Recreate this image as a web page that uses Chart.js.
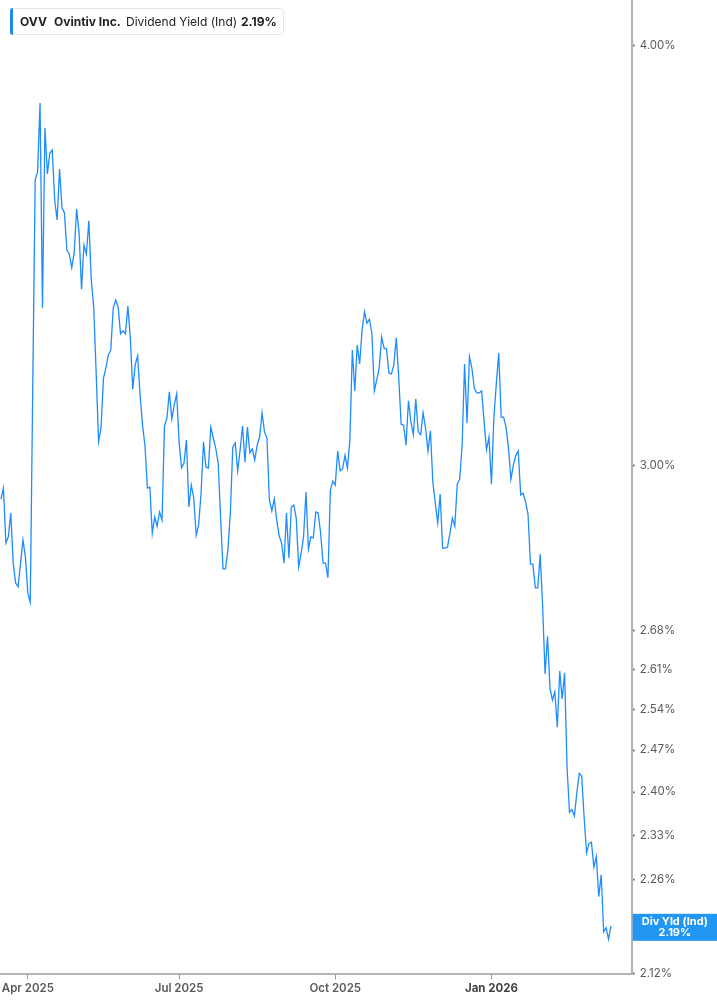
<!DOCTYPE html>
<html>
<head>
<meta charset="utf-8">
<script src="https://cdn.jsdelivr.net/npm/chart.js@4.4.1/dist/chart.umd.min.js"></script>
<style>
  body { margin: 0; background: #fff; }
  #wrap { position: relative; width: 717px; height: 1005px; }
  #legendBox {
    position: absolute; left: 10px; top: 8px; width: 272px; height: 25px;
    background: #fff; border: 1px solid #e6e6e6; border-radius: 4px;
    font-family: Inter, "Noto Sans", sans-serif; font-size: 12px; color: #222;
  }
  #legendBox .bar { position: absolute; left: -1px; top: -1px; width: 3px; height: 27px; background: #1e88f5; border-radius: 3px 0 0 3px; }
  #legendBox span { position: absolute; top: 5px; white-space: nowrap; }
  #legendBox .b { font-weight: 700; }
</style>
</head>
<body>
<div id="wrap">
  <canvas id="yieldChart"></canvas>
  <div id="legendBox">
    <div class="bar"></div>
    <span class="b" style="left:9px">OVV</span>
    <span class="b" style="left:43px">Ovintiv Inc.</span>
    <span style="left:115px">Dividend Yield (Ind)</span>
    <span class="b" style="left:230px">2.19%</span>
  </div>
</div>
<script>
// daily dividend yield (%), Mar 17 2025 .. Mar 16 2026, one value per trading day
const yieldValues = [
  2.933, 2.955, 2.846, 2.858, 2.905, 2.807, 2.769, 2.762, 2.807, 2.852,
  2.819, 2.750, 2.733, 3.160, 3.649, 3.669, 3.846, 3.343, 3.781, 3.664,
  3.716, 3.724, 3.599, 3.550, 3.676, 3.580, 3.568, 3.478, 3.468, 3.436,
  3.471, 3.577, 3.519, 3.386, 3.490, 3.468, 3.548, 3.407, 3.345, 3.197,
  3.050,
  3.079, 3.186, 3.208, 3.237, 3.248, 3.343, 3.361, 3.345, 3.284, 3.291,
  3.284, 3.347, 3.275, 3.162, 3.215, 3.235, 3.150, 3.085, 3.043, 2.955,
  2.957, 2.865, 2.897, 2.879, 2.907, 2.891, 3.083, 3.100, 3.156, 3.098,
  3.128, 3.152, 3.050, 2.996, 3.006, 3.054, 2.917, 2.961, 2.935, 2.861,
  2.881, 2.945, 3.050, 2.998, 2.996, 3.081, 3.058, 3.037, 3.006, 2.897,
  2.796, 2.796, 2.832, 2.905, 3.039, 3.048, 2.990, 3.033, 3.083, 3.008,
  3.081, 3.027, 3.035, 3.012, 3.043, 3.060, 3.111, 3.071, 3.058, 2.931,
  2.909, 2.933, 2.891, 2.860, 2.846, 2.807, 2.905, 2.817, 2.917, 2.921,
  2.895, 2.800, 2.826, 2.858, 2.947, 2.834, 2.858, 2.856, 2.907, 2.905,
  2.865, 2.807, 2.807, 2.779, 2.951, 2.969, 2.961, 3.031, 2.990, 2.994,
  3.022, 2.996, 3.054, 3.248, 3.158, 3.259, 3.217, 3.293, 3.334, 3.308,
  3.317, 3.286, 3.158, 3.182, 3.208, 3.277, 3.252, 3.250, 3.197, 3.195,
  3.215, 3.275, 3.189, 3.087, 3.085, 3.043, 3.137, 3.092, 3.065, 3.141,
  3.071, 3.065, 3.111, 3.079, 3.031, 3.073, 2.967, 2.925, 2.885, 2.943,
  2.836, 2.836, 2.838, 2.865, 2.895, 2.879, 2.963, 2.973, 3.043, 3.217,
  3.089, 3.233, 3.208, 3.164, 3.154, 3.154, 3.158, 3.092, 3.033, 3.060,
  2.963, 3.100, 3.173, 3.241, 3.102, 3.102, 3.081, 3.037, 2.973, 3.002,
  3.022, 3.031, 2.941, 2.945, 2.927, 2.903, 2.805, 2.805, 2.760, 2.760,
  2.824, 2.724, 2.602, 2.670, 2.577, 2.556, 2.570, 2.509, 2.607, 2.558,
  2.604, 2.441, 2.367, 2.371, 2.361, 2.398, 2.431, 2.426, 2.359, 2.302,
  2.317, 2.319, 2.280, 2.296, 2.234, 2.268, 2.181, 2.187, 2.170, 2.19
];

// trading-day index of the first session of each labelled month
const monthTickIndex = [11, 73, 137, 201];
const monthTickLabels = ["Apr 2025", "Jul 2025", "Oct 2025", "Jan 2026"];
const boldTickLabel = "Jan 2026";

const yTickValues = [2.12, 2.26, 2.33, 2.40, 2.47, 2.54, 2.61, 2.68, 3.00, 4.00];
const seriesLabel = "Div Yld (Ind)";

const lineColor = "#1e8cff";
const tagColor = "#2196f3";

const lastValueTag = {
    id: "lastValueTag",
    afterDraw(chart) {
        const { ctx, chartArea, scales } = chart;
        const last = yieldValues[yieldValues.length - 1];
        const y = scales.y.getPixelForValue(last) + 1.5;
        const x0 = chartArea.right + 1;
        ctx.save();
        ctx.fillStyle = tagColor;
        ctx.fillRect(x0, y - 13.5, chart.width - x0, 27);
        ctx.fillStyle = "#fff";
        ctx.font = "700 11px Inter, sans-serif";
        ctx.textAlign = "center";
        ctx.textBaseline = "middle";
        const cx = (x0 + chart.width) / 2;
        ctx.fillText(seriesLabel, cx, y - 5.5);
        ctx.fillText(last.toFixed(2) + "%", cx, y + 5.5);
        ctx.restore();
    }
};

const ctx = document.getElementById("yieldChart").getContext("2d");

new Chart(ctx, {
    type: "line",
    data: {
        datasets: [
            {
                label: seriesLabel,
                data: yieldValues.map((v, i) => ({ x: i, y: v })),
                borderColor: lineColor,
                borderWidth: 1.3,
                pointRadius: 0,
                tension: 0,
                fill: false
            }
        ]
    },
    options: {
        responsive: true,
        maintainAspectRatio: false,
        animation: false,
        layout: { padding: 0 },
        plugins: {
            legend: { display: false },
            tooltip: { enabled: false }
        },
        scales: {
            x: {
                type: "linear",
                min: -0.41,
                max: 258.5,
                afterBuildTicks: (scale) => {
                    scale.ticks = monthTickIndex.map(v => ({ value: v }));
                },
                afterFit: (scale) => {
                    scale.height = 30.7;
                    scale.paddingLeft = 0;
                    scale.paddingRight = 0;
                },
                grid: { drawOnChartArea: false, drawTicks: true, tickLength: 5, color: "#999" },
                border: { display: true, color: "#b3b3b3", width: 2 },
                ticks: {
                    autoSkip: false,
                    maxRotation: 0,
                    padding: 2,
                    color: (c) => (c.tick && monthTickLabels[monthTickIndex.indexOf(c.tick.value)] === boldTickLabel ? "#444" : "#5a5a5a"),
                    font: (c) => ({
                        family: "Inter",
                        size: 11.5,
                        weight: c.tick && monthTickLabels[monthTickIndex.indexOf(c.tick.value)] === boldTickLabel ? "700" : "600"
                    }),
                    callback: (value) => monthTickLabels[monthTickIndex.indexOf(value)] || ""
                }
            },
            y: {
                type: "logarithmic",
                position: "right",
                min: 2.1185,
                max: 4.127,
                afterBuildTicks: (scale) => {
                    scale.ticks = yTickValues.map(v => ({ value: v }));
                },
                afterFit: (scale) => {
                    scale.width = 85.3;
                    scale.paddingTop = 0;
                    scale.paddingBottom = 0;
                },
                grid: { drawOnChartArea: false, drawTicks: true, tickLength: 3, tickWidth: 2, color: "#777" },
                border: { display: true, color: "#b3b3b3", width: 2 },
                ticks: {
                    autoSkip: false,
                    padding: 5,
                    color: "#5a5a5a",
                    font: { family: "Inter", size: 11.5 },
                    callback: (value) => Number(value).toFixed(2) + "%"
                }
            }
        }
    },
    plugins: [lastValueTag]
});
</script>
</body>
</html>
